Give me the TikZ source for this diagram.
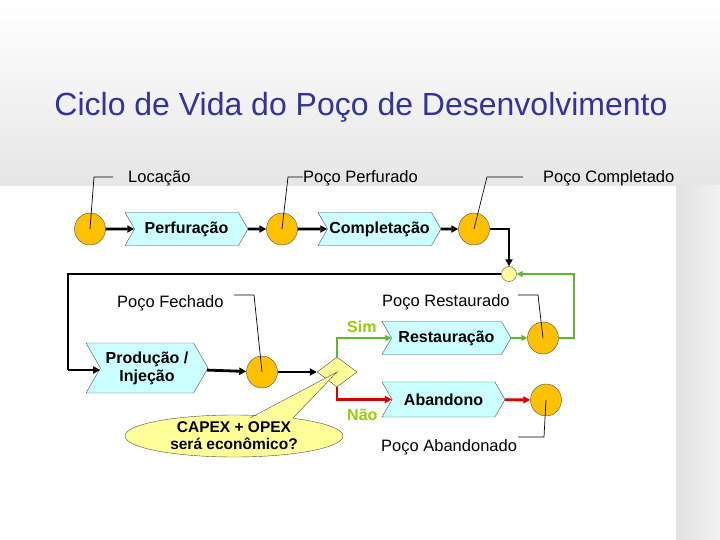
\documentclass[tikz,border=0pt]{standalone}
\usepackage{fontspec}
\setmainfont{Liberation Sans}
\usetikzlibrary{shapes.symbols,shapes.geometric,arrows.meta}
\definecolor{titleblue}{HTML}{333399}
\definecolor{gold}{HTML}{FFC000}
\definecolor{cyanbox}{HTML}{CCFFFF}
\definecolor{simgreen}{HTML}{99CC00}
\definecolor{lgreen}{HTML}{5CB82E}
\definecolor{pale}{HTML}{FFFF99}
\tikzset{
 ev/.style={ellipse,draw=black!70,fill=gold,minimum width=31pt,minimum height=32pt,inner sep=0},
 chev/.style={signal,signal to=east,signal from=west,signal pointer angle=120,draw=black!70,fill=cyanbox,minimum height=33pt,inner sep=0,font=\fontsize{16}{18}\selectfont\bfseries,align=center},
 lbl/.style={font=\fontsize{16.5}{18}\selectfont,inner sep=0},
 lead/.style={draw=black,line width=0.7pt},
 flow/.style={line width=2.8pt,-{Triangle[length=7pt,width=7pt]}},
 gflow/.style={draw=lgreen,line width=2pt,-{Triangle[length=6pt,width=6pt]}},
 rflow/.style={draw=red!85!black,line width=2.8pt,-{Triangle[length=7pt,width=7pt]}},
}
\begin{document}
\begin{tikzpicture}[x=1pt,y=-1pt]
\useasboundingbox (0,0) rectangle (720,540);
\shade[top color=white,bottom color=black!10] (0,0) rectangle (720,186);
\fill[white] (0,186) rectangle (676,540);
\shade[left color=black!12,right color=black!5] (676,186) rectangle (720,540);
\node[font=\fontsize{32}{34}\selectfont,text=titleblue] (title) at (361,107) {Ciclo de Vida do Poço de Desenvolvimento};

\node[ev] (c1) at (90,229) {};
\node[chev,minimum width=123pt] (perf) at (186.5,229) {Perfuração};
\node[ev] (c2) at (282,229) {};
\node[chev,minimum width=123pt] (comp) at (379.5,229) {Completação};
\node[ev] (c3) at (474,229) {};
\node[circle,draw=black!70,fill=pale,minimum size=15pt,inner sep=0] (j) at (509,274) {};

\node[chev,minimum width=122pt,minimum height=50pt] (prod) at (147,368) {Produção /\\Injeção};
\node[ev] (c4) at (262,372) {};
\node[diamond,draw=black!70,fill=pale,minimum width=40pt,minimum height=30pt,inner sep=0] (d) at (337,372) {};
\node[chev,minimum width=129pt] (rest) at (446.5,338) {Restauração};
\node[ev] (c5) at (543,338) {};
\node[chev,minimum width=123pt,minimum height=35pt] (aban) at (443.5,399.5) {Abandono};
\node[ev] (c6) at (546,400) {};

% labels
\node[lbl,anchor=west] (l1) at (128,178) {Locação};
\node[lbl,anchor=west] (l2) at (303,178) {Poço Perfurado};
\node[lbl,anchor=west] (l3) at (543,178) {Poço Completado};
\node[lbl,anchor=west] (l4) at (117,303) {Poço Fechado};
\node[lbl,anchor=west] (l5) at (382,302) {Poço Restaurado};
\node[lbl,anchor=west] (l6) at (381,447) {Poço Abandonado};
\node[lbl,anchor=west,text=simgreen,font=\fontsize{16}{18}\selectfont\bfseries] (sim) at (347,327) {Sim};
\node[lbl,anchor=west,text=simgreen,font=\fontsize{16}{18}\selectfont\bfseries] (nao) at (347,415) {Não};

% leaders
\draw[lead] (c1.center) -- (94,177) -- (113,177);
\draw[lead] (c2.center) -- (288,177) -- (303,177);
\draw[lead] (c3.center) -- (487,177) -- (523,177);
\draw[lead] (c4.center) -- (254,295) -- (234,295);
\draw[lead] (c5.center) -- (538,295) -- (518,295);
\draw[lead] (c6.center) -- (544,437) -- (518,437);

% flows
\draw[flow] (c1) -- (perf);
\draw[flow] (perf) -- (c2);
\draw[flow] (c2) -- (comp);
\draw[flow] (comp) -- (c3);
\draw[flow] (c3.east) -| (j.north);
\draw[line width=2.8pt] (j.west) -- (68,274) -- (68,370);
\draw[flow] (68,370) -- (prod.west |- 0,370);
\draw[flow] (prod) -- (c4);
\draw[flow] (c4) -- (d);
\draw[gflow] (d.north) |- (rest.west);
\draw[gflow] (rest) -- (c5);
\draw[gflow] (c5.east) -- (574,338) -- (574,274) -- (j.east);
\draw[rflow] (d.south) |- (aban.west);
\draw[rflow] (aban) -- (c6);

% callout
\node[ellipse,draw=black!70,fill=pale,minimum width=218pt,minimum height=42pt,inner sep=0,
  font=\fontsize{15.5}{17}\selectfont\bfseries,align=center] (call) at (234,436) {CAPEX + OPEX\\será econômico?};
\fill[pale] (250,419) -- (d.center) -- (293,419) -- cycle;
\draw[black!70] (250,418) -- (d.center) -- (293,418);
\end{tikzpicture}
\end{document}
